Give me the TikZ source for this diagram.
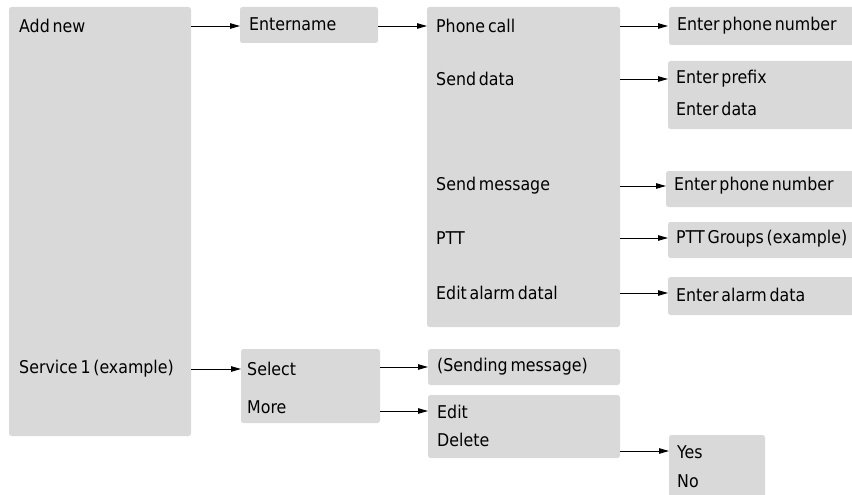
\documentclass[tikz,border=0pt]{standalone}
\usepackage{fontspec}
\setmainfont{DejaVu Sans Condensed}[WordSpace=0.55]
\usetikzlibrary{arrows.meta}
\definecolor{boxgray}{HTML}{D9D9D9}
\tikzset{
  box/.style={fill=boxgray, rounded corners=2.5pt},
  lbl/.style={anchor=west, inner sep=0pt, font=\fontsize{17.6}{19}\selectfont},
  arr/.style={draw=black, line width=0.8pt, -{Triangle[length=10pt,width=5.5pt]}}
}
\begin{document}
\begin{tikzpicture}[x=1pt,y=-1pt]
\useasboundingbox (0,0) rectangle (852,495);
% box edge coordinates
\coordinate (Ae) at (191,0);
\coordinate (Nw) at (240,0);
\coordinate (Ne) at (378,0);
\coordinate (Bw) at (427,0);
\coordinate (Be) at (620,0);
\coordinate (Rw) at (668,0);
\coordinate (Sw) at (241,0);
\coordinate (Se) at (380,0);
\coordinate (Cw) at (428,0);
\coordinate (Ce) at (620,0);
\coordinate (Yw) at (669,0);
% boxes
\path[box] (9,7) rectangle (191,436);
\path[box] (240,7) rectangle (378,43);
\path[box] (427,7) rectangle (620,327);
\path[box] (669,7) rectangle (860,45);
\path[box] (668,61) rectangle (860,129);
\path[box] (666,171) rectangle (860,207);
\path[box] (668,222) rectangle (860,258);
\path[box] (668,277) rectangle (860,315);
\path[box] (241,349) rectangle (380,423);
\path[box] (428,349) rectangle (620,385);
\path[box] (428,395) rectangle (620,458);
\path[box] (669,435) rectangle (765,500);
% texts
\node[lbl] (addnew) at (19,26) {Add new};
\node[lbl] (service) at (19,369) {Service 1 (example)};
\node[lbl] (entername) at (249,24) {Entername};
\node[lbl] (phonecall) at (436,26) {Phone call};
\node[lbl] (senddata) at (436,79) {Send data};
\node[lbl] (sendmsg) at (436,186) {Send message};
\node[lbl] (ptt) at (436,238) {PTT};
\node[lbl] (editalarm) at (436,293) {Edit alarm datal};
\node[lbl] (enterphone) at (677,26) {Enter phone number};
\node[lbl] (enterprefix) at (676,79) {Enter prefix};
\node[lbl] (enterdata) at (676,109) {Enter data};
\node[lbl] (enterphone2) at (674,186) {Enter phone number};
\node[lbl] (pttgroups) at (676,239) {PTT Groups (example)};
\node[lbl] (enteralarm) at (676,295) {Enter alarm data};
\node[lbl] (select) at (247,369) {Select};
\node[lbl] (more) at (247,407) {More};
\node[lbl] (sending) at (437,367) {(Sending message)};
\node[lbl] (edit) at (437,412) {Edit};
\node[lbl] (delete) at (437,440) {Delete};
\node[lbl] (yes) at (677,452) {Yes};
\node[lbl] (no) at (677,481) {No};
% arrows
\draw[arr] (Ae |- addnew.west) -- (Nw |- addnew.west);
\draw[arr] (Ne |- addnew.west) -- (Bw |- addnew.west);
\draw[arr] (Be |- phonecall.west) -- (Rw |- phonecall.west);
\draw[arr] (Be |- senddata.west) -- (Rw |- senddata.west);
\draw[arr] (Be |- sendmsg.west) -- ([xshift=-2pt]Rw |- sendmsg.west);
\draw[arr] (Be |- ptt.west) -- (Rw |- ptt.west);
\draw[arr] (Be |- editalarm.west) -- (Rw |- editalarm.west);
\draw[arr] (Ae |- service.west) -- (Sw |- service.west);
\draw[arr] (Se |- sending.west) -- (Cw |- sending.west);
\draw[arr] ([yshift=1pt]Se |- edit.west) -- ([yshift=1pt]Cw |- edit.west);
\draw[arr] ([yshift=1pt]Ce |- yes.west) -- ([yshift=1pt]Yw |- yes.west);
\end{tikzpicture}
\end{document}
